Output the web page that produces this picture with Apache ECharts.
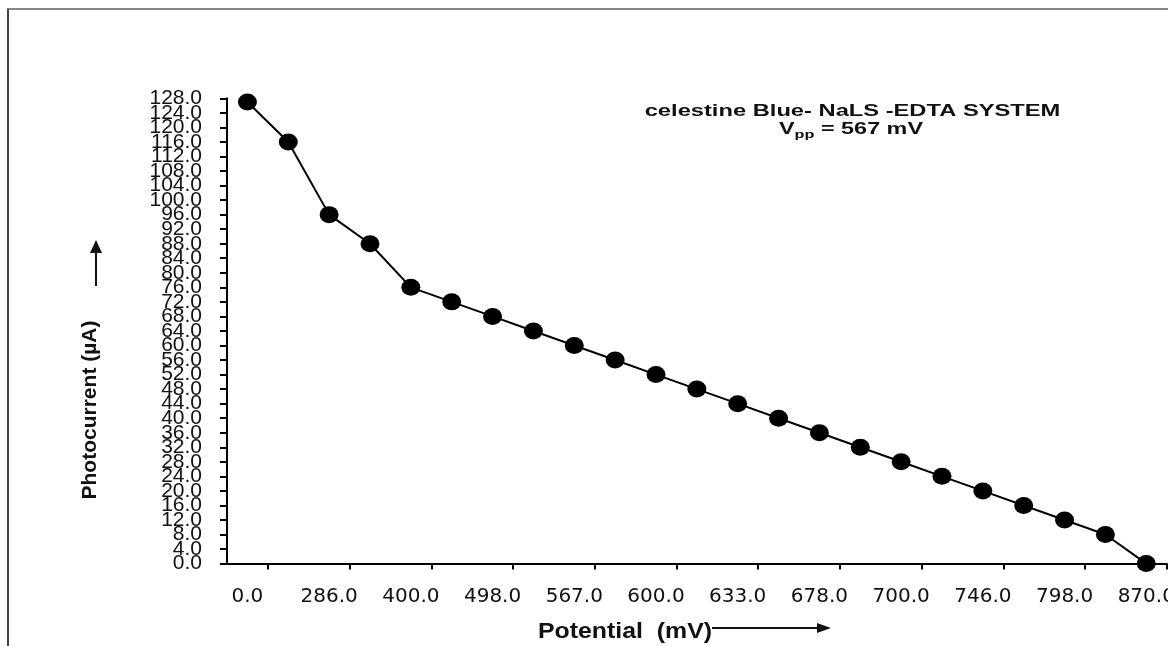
<!DOCTYPE html>
<html><head><meta charset="utf-8">
<script src="https://cdn.jsdelivr.net/npm/echarts@6/dist/echarts.min.js"></script>
<style>html,body{margin:0;padding:0;background:#fff}#c{width:1168px;height:646px}</style>
</head><body><div id="c"></div>
<script>
// Potential (mV) categories; only every other point is labelled in the original
const categories = ['0.0','','286.0','','400.0','','498.0','','567.0','','600.0','','633.0','','678.0','','700.0','','746.0','','798.0','','870.0'];
// Photocurrent (µA)
const photocurrent = [127,116,96,88,76,72,68,64,60,56,52,48,44,40,36,32,28,24,20,16,12,8,0];
// Y tick labels (0.0 ... 128.0, step 4)
const yTickLabels = ['0.0','4.0','8.0','12.0','16.0','20.0','24.0','28.0','32.0','36.0','40.0','44.0','48.0','52.0','56.0','60.0','64.0','68.0','72.0','76.0','80.0','84.0','88.0','92.0','96.0','100.0','104.0','108.0','112.0','116.0','120.0','124.0','128.0'];
const yMin = 0, yMax = 128, yStep = 4;
const titleLine1 = 'celestine Blue- NaLS -EDTA SYSTEM';
const xName = 'Potential  (mV)';
const yName = 'Photocurrent (\u00B5A)';

const chart = echarts.init(document.getElementById('c'), null, {renderer: 'canvas'});
chart.setOption({
  animation: false,
  backgroundColor: '#ffffff',
  grid: {left: 227, right: 1.3, top: 98.3, bottom: 82.4, containLabel: false, outerBoundsMode: 'none'},
  xAxis: {
    type: 'category',
    data: categories,
    boundaryGap: true,
    axisLine: {lineStyle: {color: '#000', width: 2}},
    axisTick: {show: true, length: 6, lineStyle: {color: '#000', width: 2},
      interval: function (i) { return i % 2 === 1; }},
    axisLabel: {interval: 0, color: '#111', fontFamily: 'DejaVu Sans', fontSize: 20, margin: 23},
    splitLine: {show: false}
  },
  yAxis: [{
    type: 'value',
    min: yMin, max: yMax, interval: yStep,
    axisLine: {show: false},
    axisTick: {show: false},
    axisLabel: {show: false},
    splitLine: {show: false}
  }, {
    type: 'category',
    position: 'left',
    data: yTickLabels,
    boundaryGap: false,
    axisLine: {show: true, onZero: false, lineStyle: {color: '#000', width: 2}},
    axisTick: {show: true, interval: 0, length: 7, lineStyle: {color: '#000', width: 2}},
    axisLabel: {interval: 0, color: '#111', fontFamily: 'Liberation Sans', fontSize: 21, margin: 25},
    splitLine: {show: false}
  }],
  series: [{
    type: 'line',
    yAxisIndex: 0,
    data: photocurrent,
    symbol: 'circle',
    symbolSize: [19, 17],
    lineStyle: {color: '#000', width: 2},
    itemStyle: {color: '#000', borderWidth: 0},
    clip: false,
    z: 3
  }],
  graphic: [
    {type: 'line', shape: {x1: 7, y1: 9, x2: 1168, y2: 9}, style: {stroke: '#888', lineWidth: 2}},
    {type: 'line', shape: {x1: 8, y1: 9, x2: 8, y2: 646}, style: {stroke: '#444', lineWidth: 2}},
    {type: 'text', x: 852.5, y: 112, scaleX: 1.5,
      style: {text: titleLine1, fill: '#111', font: 'bold 15.8px "Liberation Sans"',
        align: 'center', verticalAlign: 'middle', textAlign: 'center', textVerticalAlign: 'middle'}},
    {type: 'text', x: 851, y: 129.5, scaleX: 1.48,
      style: {text: '{v|V}{s|pp}{v| = 567 mV}', fill: '#111',
        align: 'center', verticalAlign: 'middle', textAlign: 'center', textVerticalAlign: 'middle',
        rich: {
          v: {font: 'bold 15.8px "Liberation Sans"', fill: '#111', lineHeight: 22},
          s: {font: 'bold 11px "Liberation Sans"', fill: '#111', lineHeight: 10, verticalAlign: 'bottom'}
        }}},
    {type: 'text', x: 625, y: 632, scaleX: 1.13,
      style: {text: xName, fill: '#111', font: 'bold 22px "Liberation Sans"',
        align: 'center', verticalAlign: 'middle', textAlign: 'center', textVerticalAlign: 'middle'}},
    {type: 'line', shape: {x1: 712, y1: 628, x2: 820, y2: 628}, style: {stroke: '#111', lineWidth: 2}},
    {type: 'polygon', shape: {points: [[817, 623], [831, 628], [817, 633]]}, style: {fill: '#111'}},
    {type: 'text', x: 90, y: 410, rotation: Math.PI / 2,
      style: {text: yName, fill: '#111', font: 'bold 21px "Liberation Sans"',
        align: 'center', verticalAlign: 'middle', textAlign: 'center', textVerticalAlign: 'middle'}},
    {type: 'line', shape: {x1: 96, y1: 286, x2: 96, y2: 250}, style: {stroke: '#111', lineWidth: 2}},
    {type: 'polygon', shape: {points: [[90, 253], [96, 240], [102, 253]]}, style: {fill: '#111'}}
  ]
});
</script></body></html>
